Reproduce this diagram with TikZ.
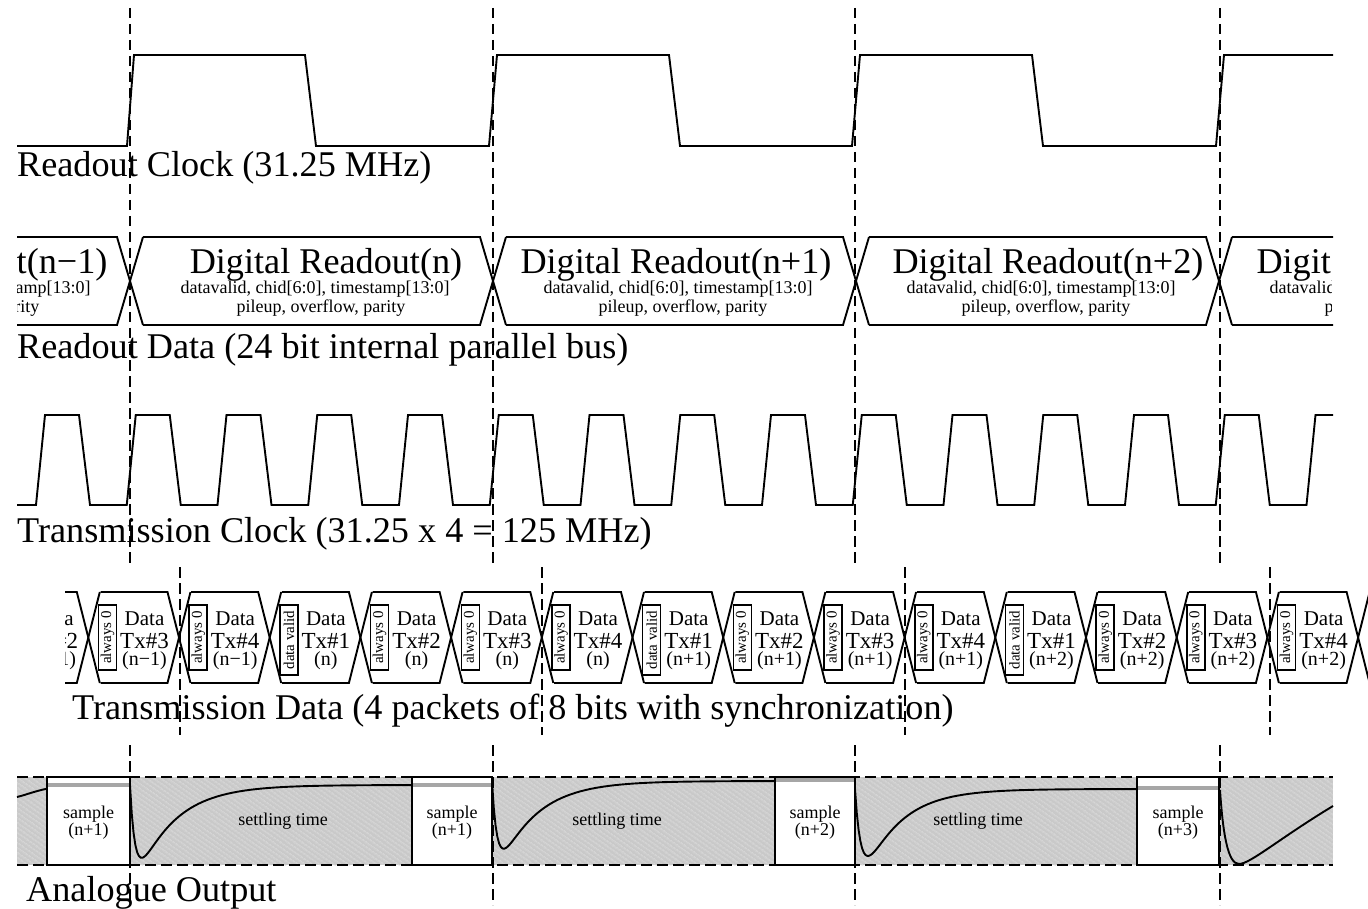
\documentclass[tikz,border=0pt]{standalone}
\usepackage{fontspec}
\setmainfont{Liberation Serif}
\usepackage{tikz}
\usetikzlibrary{patterns.meta}
\tikzset{
  wave/.style={draw=black, line width=1.9pt, line join=miter},
  marca/.style={draw=black, line width=1.8pt, dash pattern=on 10.5pt off 5.5pt},
  rotulo/.style={anchor=base west, inner sep=0pt, font=\fontsize{36.2}{36.2}\selectfont},
  titulo/.style={inner sep=0pt, font=\fontsize{36.2}{36.2}\selectfont},
  campo/.style={inner sep=0pt, font=\fontsize{18}{18}\selectfont},
  pacote/.style={anchor=base, inner sep=0pt, font=\fontsize{#1}{#1}\selectfont},
  sinc/.style={draw=black, line width=1.5pt, fill=white, rotate=90, inner sep=0pt, minimum height=18pt, font=\fontsize{15}{15}\selectfont},
  janela/.style={draw=black, line width=1.9pt, fill=white},
  curva/.style={draw=black, line width=1.9pt},
  faixa/.style={draw=gray!70, line width=3.5pt},
}
\begin{document}
\begin{tikzpicture}[x=1pt, y=-1pt]
  \useasboundingbox (0,0) rectangle (1368,909);

  % readout clock
  \draw[wave] (17,146) -- (127,146) -- (134,55) -- (305,55) -- (316,146) -- (489,146) -- (497,55)
    -- (669,55) -- (680,146) -- (852,146) -- (860,55) -- (1032,55) -- (1043,146) -- (1216,146)
    -- (1224,55) -- (1333,55);
  \node[rotulo] (lblck) at (17,177) {Readout Clock (31.25 MHz)};

  % readout data
  \begin{scope}
    \clip (17,225) rectangle (1333,335);
    \foreach \c in {-233,130,493,856,1219} {
      \draw[wave] (\c+13,237) -- (\c+350,237) -- (\c+376,325);
      \draw[wave] (\c+13,325) -- (\c+350,325) -- (\c+376,237);
    }
  \end{scope}
  \begin{scope}
    \clip (17,225) rectangle (1331,335);
    \foreach \cx/\sx/\px/\txt [count=\i] in {-48/-44/-45/n−1, 326/315/321/n, 676/678/683/n+1, 1048/1041/1046/n+2, 1412/1404/1409/n+3} {
      \node[titulo] (dig\i) at (\cx,265) {Digital Readout(\txt)};
      \node[campo] (sub\i) at (\sx,289) {datavalid, chid[6:0], timestamp[13:0]};
      \node[campo] (pil\i) at (\px,308.5) {pileup, overflow, parity};
    }
  \end{scope}
  \node[rotulo] (lbldt) at (17,358) {Readout Data (24 bit internal parallel bus)};

  % transmission clock
  \begin{scope}
    \clip (17,405) rectangle (1333,515);
    \draw[wave] (0,505) -- (36,505)
      \foreach \k in {0,...,14} {
        -- ({36+90.75*\k},505) -- ({45+90.75*\k},415) -- ({79+90.75*\k},415) -- ({90+90.75*\k},505)
      } -- (1368,505);
  \end{scope}
  \node[rotulo] (lbltx) at (17,542) {Transmission Clock (31.25 x 4 = 125 MHz)};

  % transmission data
  \begin{scope}
    \clip (65,580) rectangle (1368,695);
    \foreach \k in {-1,...,14} {
      \pgfmathsetmacro{\c}{88.5+90.7*\k}
      \draw[wave] (\c+12,592) -- (\c+79,592) -- (\c+102,683);
      \draw[wave] (\c+12,683) -- (\c+79,683) -- (\c+102,592);
    }
    \foreach \k/\pk/\n in {-1/2/n−1, 0/3/n−1, 1/4/n−1, 2/1/n, 3/2/n, 4/3/n, 5/4/n, 6/1/n+1, 7/2/n+1, 8/3/n+1, 9/4/n+1, 10/1/n+2, 11/2/n+2, 12/3/n+2, 13/4/n+2} {
      \pgfmathsetmacro{\c}{88.5+90.7*\k}
      \node[pacote=21] (dat\k) at (\c+56,625) {Data};
      \node[pacote=23] (txn\k) at (\c+56,648) {Tx\#\pk};
      \node[pacote=20] (idx\k) at (\c+56,665) {(\n)};
    }
    \foreach \k/\tag/\len in {0/always 0/65, 1/always 0/65, 2/data valid/70, 3/always 0/65, 4/always 0/65, 5/always 0/65, 6/data valid/70, 7/always 0/65, 8/always 0/65, 9/always 0/65, 10/data valid/70, 11/always 0/65, 12/always 0/65, 13/always 0/65} {
      \pgfmathsetmacro{\c}{107.5+90.7*\k}
      \node[sinc, minimum width=\len pt] (bit\k) at (\c,605+\len/2) {\tag};
    }
  \end{scope}
  \node[rotulo] (lblsr) at (72,719) {Transmission Data (4 packets of 8 bits with synchronization)};

  % analogue output
  \fill[gray!42] (17,777) rectangle (1333,865);
  \fill[pattern={Lines[angle=-35,distance=4pt,line width=1pt]}, pattern color=gray!28] (17,777) rectangle (1333,865);
  \draw[curva] (17,797) .. controls (30,794) and (45,786) .. (80,785) -- (130,785);
  \foreach \xa/\xb/\ya/\amp/\ka/\kb in {130/412/785/114/38/5, 492/775/781/106/38/5, 855/1137/789/115/36/6} {
    \draw[curva] plot[domain=\xa:\xb, samples=160] (\x, {\ya+\amp*(exp(-(\x-\xa)/\ka)-exp(-(\x-\xa)/\kb))});
  }
  \draw[curva] (1220,790) .. controls (1223,835) and (1228,864) .. (1239,864)
    .. controls (1250,864) and (1280,838) .. (1333,806);
  \draw[marca] (17,777) -- (1333,777);
  \draw[marca] (17,865) -- (1333,865);
  \foreach \a/\b/\n/\ya [count=\i] in {47/130/n+1/785, 412/492/n+1/785, 775/855/n+2/780, 1137/1219/n+3/788} {
    \node[janela, inner sep=0pt, minimum width=\b pt-\a pt, minimum height=88pt] (amo\i) at ({(\a+\b)/2},821) {};
    \draw[faixa] (\a+1,\ya) -- (\b-1,\ya);
    \node[campo] (sam\i) at ({(\a+\b)/2},814) {sample};
    \node[campo] (num\i) at ({(\a+\b)/2},831) {(\n)};
  }
  \foreach \x [count=\i] in {283,617,978} {
    \node[campo] (set\i) at (\x,821) {settling time};
  }
  \node[rotulo] (lblan) at (26,901) {Analogue Output};

  % time marks
  \foreach \x [count=\i] in {130,493,855,1220} {
    \coordinate (topo\i) at (\x,8);
    \coordinate (meio\i) at (\x,564);
    \coordinate (base\i) at (\x,745);
    \coordinate (fim\i) at (\x,905);
    \draw[marca] (topo\i) -- (meio\i);
    \draw[marca] (base\i) -- (fim\i);
  }
  \foreach \x [count=\i] in {180,542,905,1270} {
    \coordinate (alto\i) at (\x,567);
    \coordinate (baixo\i) at (\x,735);
    \draw[marca] (alto\i) -- (baixo\i);
  }
\end{tikzpicture}
\end{document}
